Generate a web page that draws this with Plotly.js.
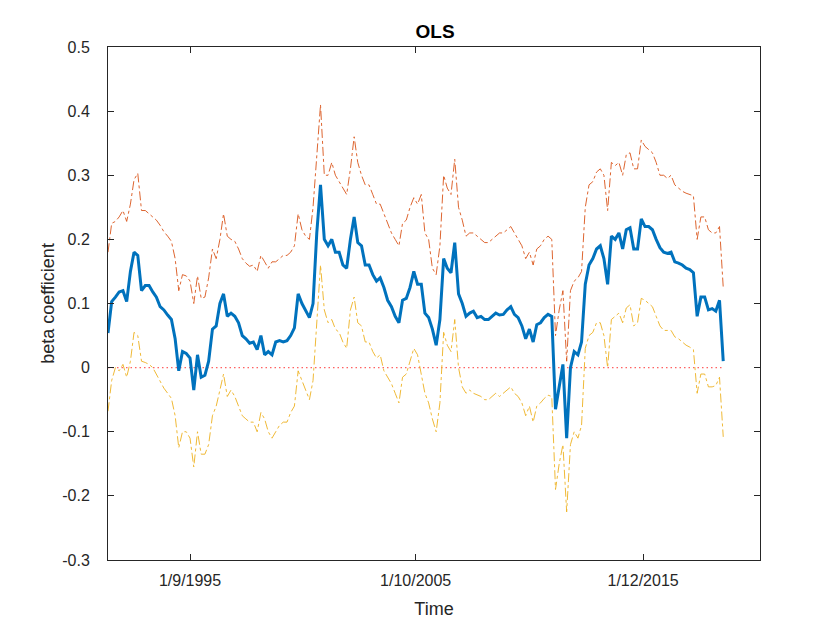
<!DOCTYPE html>
<html>
<head>
<meta charset="utf-8">
<script src="https://cdn.plot.ly/plotly-3.0.1.min.js"></script>
<style>html,body{margin:0;padding:0;background:#fff;}#chart{width:840px;height:630px;}</style>
</head>
<body>
<div id="chart"></div>
<script>
// Sampling: every 2 months from Jan 1992
const startYear = 1992, startMonth = 1, stepMonths = 2;

const beta = [
 0.054,0.103,0.11,0.118,0.12,0.103,0.15,0.18,0.175,0.12,0.128,0.128,0.118,0.11,0.095,0.09,0.082,0.075,0.045,-0.005,0.025,
 0.022,0.015,-0.035,0.02,-0.015,-0.012,0.01,0.06,0.065,0.1,0.115,0.08,0.085,0.08,0.07,0.05,0.045,0.038,0.04,0.028,0.05,
 0.02,0.025,0.02,0.04,0.042,0.04,0.042,0.05,0.062,0.115,0.1,0.088,0.078,0.1,0.21,0.285,0.2,0.19,0.2,0.18,0.18,
 0.16,0.155,0.2,0.235,0.195,0.19,0.16,0.16,0.145,0.135,0.14,0.125,0.105,0.095,0.08,0.07,0.105,0.108,0.125,0.15,0.13,
 0.13,0.085,0.078,0.06,0.035,0.075,0.17,0.155,0.148,0.195,0.115,0.1,0.08,0.085,0.088,0.078,0.08,0.075,0.075,0.08,0.085,
 0.082,0.083,0.09,0.095,0.083,0.078,0.065,0.045,0.06,0.04,0.067,0.07,0.078,0.083,0.08,-0.065,-0.03,0.005,-0.11,0.0,0.025,
 0.02,0.04,0.13,0.16,0.17,0.185,0.19,0.17,0.13,0.205,0.2,0.21,0.185,0.215,0.218,0.185,0.185,0.232,0.22,0.22,0.215,
 0.2,0.187,0.18,0.178,0.18,0.165,0.163,0.16,0.155,0.153,0.148,0.08,0.11,0.11,0.09,0.092,0.088,0.105,0.01
];

const upper = [
 0.18,0.225,0.228,0.235,0.245,0.228,0.255,0.293,0.303,0.245,0.245,0.24,0.236,0.23,0.222,0.212,0.205,0.197,0.17,0.12,0.145,
 0.143,0.135,0.1,0.143,0.108,0.11,0.14,0.185,0.17,0.2,0.24,0.205,0.2,0.197,0.185,0.17,0.163,0.158,0.16,0.15,0.175,
 0.165,0.155,0.165,0.165,0.17,0.175,0.175,0.18,0.19,0.24,0.215,0.205,0.2,0.25,0.33,0.41,0.3,0.3,0.32,0.3,0.29,
 0.28,0.27,0.31,0.36,0.32,0.3,0.285,0.285,0.27,0.255,0.255,0.24,0.225,0.21,0.2,0.19,0.225,0.23,0.25,0.265,0.255,
 0.27,0.21,0.2,0.155,0.145,0.19,0.3,0.28,0.27,0.325,0.25,0.23,0.205,0.21,0.21,0.205,0.2,0.195,0.195,0.2,0.205,
 0.21,0.21,0.215,0.22,0.21,0.2,0.19,0.17,0.18,0.16,0.185,0.19,0.2,0.205,0.2,0.05,0.09,0.12,0.01,0.12,0.135,
 0.14,0.15,0.25,0.285,0.29,0.305,0.31,0.3,0.245,0.32,0.315,0.32,0.3,0.332,0.335,0.31,0.31,0.355,0.345,0.34,0.335,
 0.32,0.3,0.3,0.295,0.3,0.285,0.28,0.275,0.272,0.27,0.268,0.2,0.235,0.235,0.215,0.21,0.21,0.22,0.125
];

const lower = [
 -0.068,-0.02,0.0,-0.005,0.005,-0.015,0.01,0.055,0.05,0.01,0.008,0.005,0.0,-0.01,-0.02,-0.032,-0.04,-0.048,-0.075,-0.125,-0.1,
 -0.1,-0.11,-0.155,-0.1,-0.135,-0.135,-0.12,-0.075,-0.06,-0.035,-0.01,-0.045,-0.035,-0.045,-0.06,-0.075,-0.08,-0.085,-0.085,-0.1,-0.07,
 -0.08,-0.1,-0.11,-0.1,-0.09,-0.085,-0.085,-0.07,-0.06,-0.005,-0.02,-0.035,-0.05,-0.02,0.08,0.16,0.09,0.07,0.075,0.06,0.055,
 0.04,0.03,0.09,0.11,0.07,0.065,0.04,0.04,0.025,0.015,0.02,-0.005,-0.015,-0.025,-0.04,-0.055,-0.015,-0.01,0.01,0.03,0.02,
 -0.01,-0.04,-0.055,-0.08,-0.1,-0.055,0.055,0.035,0.025,0.075,0.0,-0.03,-0.04,-0.035,-0.04,-0.042,-0.045,-0.05,-0.05,-0.045,-0.04,
 -0.045,-0.04,-0.035,-0.03,-0.04,-0.045,-0.055,-0.075,-0.06,-0.085,-0.06,-0.055,-0.048,-0.043,-0.045,-0.19,-0.15,-0.12,-0.225,-0.12,-0.1,
 -0.11,-0.09,0.03,0.05,0.055,0.07,0.07,0.05,0.0,0.075,0.08,0.085,0.07,0.093,0.098,0.065,0.07,0.108,0.105,0.1,0.095,
 0.08,0.065,0.058,0.058,0.058,0.048,0.045,0.04,0.035,0.032,0.028,-0.04,-0.01,-0.01,-0.03,-0.03,-0.028,-0.015,-0.108
];

const xTickVals = ['1995-09-01','2005-10-01','2015-12-01'];
const xTickText = ['1/9/1995','1/10/2005','1/12/2015'];
const yTickVals = [-0.3,-0.2,-0.1,0,0.1,0.2,0.3,0.4,0.5];
const yTickText = ['-0.3','-0.2','-0.1','0','0.1','0.2','0.3','0.4','0.5'];
const zeroLevel = [0, 0];

function pad(n){return (n<10?'0':'')+n;}
const dates = beta.map((_, i) => {
  const m0 = (startMonth - 1) + i * stepMonths;
  const y = startYear + Math.floor(m0 / 12);
  const m = (m0 % 12) + 1;
  return y + '-' + pad(m) + '-01';
});

const axisColor = '#262626';
const fam = 'Liberation Sans, Arial, sans-serif';

const traces = [
  {x: [dates[0], dates[dates.length-1]], y: zeroLevel, mode: 'lines',
   line: {color: '#ff2020', width: 1.2, dash: '1.5px,3px'}, opacity: 0.7, hoverinfo: 'skip'},
  {x: dates, y: upper, mode: 'lines', line: {color: '#D95319', width: 0.9, dash: 'dashdot'}},
  {x: dates, y: lower, mode: 'lines', line: {color: '#EDB120', width: 0.9, dash: 'dashdot'}},
  {x: dates, y: beta, mode: 'lines', line: {color: '#0072BD', width: 3}}
];

const layout = {
  width: 840, height: 630,
  margin: {l: 108, r: 80, t: 47, b: 70},
  paper_bgcolor: '#ffffff', plot_bgcolor: '#ffffff',
  showlegend: false,
  font: {family: fam, color: axisColor},
  title: {text: '<b>OLS</b>', x: 0.518, xanchor: 'center', y: 0.951, yanchor: 'middle',
          font: {family: fam, size: 19, color: '#000000'}},
  xaxis: {
    type: 'date', range: ['1992-01-01', '2021-02-20'],
    tickmode: 'array', tickvals: xTickVals, ticktext: xTickText,
    ticks: 'inside', ticklen: 6, tickcolor: axisColor, tickwidth: 1,
    showline: true, linecolor: axisColor, linewidth: 1, mirror: 'ticks',
    showgrid: false, zeroline: false, ticklabelstandoff: 6,
    tickfont: {family: fam, size: 16, color: axisColor},
    title: {text: 'Time', font: {family: fam, size: 18, color: axisColor}, standoff: 14}
  },
  yaxis: {
    range: [-0.3, 0.5],
    tickmode: 'array', tickvals: yTickVals, ticktext: yTickText,
    ticks: 'inside', ticklen: 6, tickcolor: axisColor, tickwidth: 1,
    showline: true, linecolor: axisColor, linewidth: 1, mirror: 'ticks',
    showgrid: false, zeroline: false, ticklabelstandoff: 14,
    tickfont: {family: fam, size: 16, color: axisColor},
    title: {text: 'beta coefficient', font: {family: fam, size: 18, color: axisColor}, standoff: 2}
  }
};

Plotly.newPlot('chart', traces, layout, {displayModeBar: false, staticPlot: true});
</script>
</body>
</html>
